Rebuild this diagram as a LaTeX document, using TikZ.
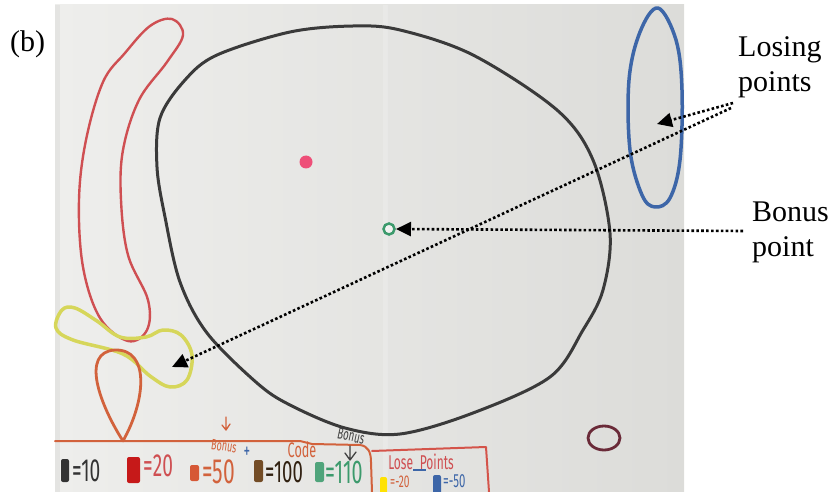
\documentclass[tikz,border=0pt]{standalone}
\usepackage{fontspec}
\setmainfont{Liberation Serif}
\newfontfamily\hand[FakeStretch=0.6]{Fira Sans}
\usetikzlibrary{arrows.meta}
\definecolor{paperA}{HTML}{EEEEEC}
\definecolor{paperB}{HTML}{DCDCD9}
\definecolor{mkblack}{HTML}{3A3A3A}
\definecolor{mkred}{HTML}{CF4F52}
\definecolor{mkblue}{HTML}{3D66A8}
\definecolor{mkyellow}{HTML}{D6D65A}
\definecolor{mkorange}{HTML}{D2623C}
\definecolor{mkpink}{HTML}{EE4F78}
\definecolor{mkgreen}{HTML}{3C9A6C}
\definecolor{mkbrown}{HTML}{6A2A38}
\tikzset{
  marker/.style={line width=#1, line cap=round, line join=round},
  pointer/.style={line width=2.6pt, dash pattern=on 2.6pt off 2.3pt,
     -{Triangle[length=15pt,width=14pt]}},
  lbl/.style={inner sep=0pt, anchor=base west, font=\fontsize{30}{35}\selectfont},
  handtxt/.style={inner sep=0pt, anchor=base west, font=\hand\fontsize{#1}{#1}\selectfont},
  smalltxt/.style={inner sep=0pt, font=\hand\fontsize{#1}{#1}\selectfont}
}
\begin{document}
\begin{tikzpicture}[x=1pt,y=-1pt]
\useasboundingbox (0,0) rectangle (833,492);
\begin{scope}
\clip (0,0) rectangle (833,492);
% paper
\shade[left color=paperA, right color=paperB] (55,5) rectangle (684,492);
\fill[white, opacity=0.18] (383,5) rectangle (388,492);
\fill[black, opacity=0.04] (55,5) rectangle (60,492);

% red elongated loop
\draw[mkred, marker=2.4pt] plot[smooth cycle, tension=0.6] coordinates {
  (172,19) (150,26) (125,53) (103,82) (86,140) (79,200) (83,267) (100,318)
  (128,341) (147,330) (148,300) (128,255) (121,200) (123,150) (139,100)
  (167,62) (183,35)};

% big black loop
\draw[mkblack, marker=3pt] plot[smooth cycle, tension=0.55] coordinates {
  (217,55) (290,32) (353,26) (400,30) (473,55) (557,110) (593,160) (610,233)
  (603,290) (583,330) (550,377) (473,413) (400,434) (345,428) (290,405) (257,383)
  (207,333) (180,282) (165,217) (157,167) (160,118) (185,80)};

% blue loop
\draw[mkblue, marker=3.5pt] plot[smooth cycle, tension=0.6] coordinates {
  (658,8) (640,32) (629,80) (630,150) (642,195) (655,207) (670,198)
  (680,160) (682,90) (676,40)};

% yellow loop
\draw[mkyellow, marker=3.5pt] plot[smooth cycle, tension=0.6] coordinates {
  (62,310) (56,328) (73,340) (123,354) (150,376) (170,387) (187,380)
  (192,355) (181,335) (163,330) (146,337) (120,337) (97,321) (75,308)};

% orange teardrop
\draw[mkorange, marker=2.8pt] (123,441) .. controls (100,405) and (80,352) .. (115,350)
  .. controls (150,349) and (146,400) .. (123,441);

% dots
\fill[mkpink] (306,162) circle (6.5);
\draw[mkgreen, line width=2.5pt] (389,229) circle (5.5);
\fill[white, opacity=0.5] (389,229) circle (3.8);

% brown ring
\draw[mkbrown, line width=2.8pt] (604,438) ellipse (16 and 12);

% legend boundaries
\draw[mkorange, marker=2pt] (55,441) -- (300,441) -- (312,444) -- (360,445)
  .. controls (368,446) and (371,452) .. (371,462) -- (372,492);
\draw[mkred!90!orange, marker=2pt] (372,451) -- (486,447) -- (489,492);

% legend swatches
\fill[black!80, rounded corners=2pt] (61,459) rectangle (69,482);
\fill[red!75!black!90!white, rounded corners=2pt] (127,457) rectangle (140,483);
\fill[mkorange!90!red, rounded corners=2pt] (190,465) rectangle (199,481);
\fill[brown!60!black, rounded corners=2pt] (254,460) rectangle (263,482);
\fill[mkgreen!90!white, rounded corners=2pt] (315,462) rectangle (324,482);
\fill[yellow!85!orange, rounded corners=2pt] (380,477) rectangle (387,495);
\fill[mkblue, rounded corners=2pt] (433,475) rectangle (441,495);

% legend texts
\node[handtxt=32, black!80] (v10) at (72,481) {=10};
\node[handtxt=32, mkred] (v20) at (143,476) {=20};
\node[handtxt=35, mkorange] (v50) at (202,483) {=50};
\node[handtxt=31, black!75!brown] (v100) at (265,482) {=100};
\node[handtxt=33, mkgreen] (v110) at (325,483) {=110};
\node[smalltxt=15, mkorange, rotate=-8] (bonA) at (224,446) {Bonus};
\node[smalltxt=22, mkblue] (plusA) at (247,453) {+};
\node[smalltxt=21, mkorange] (code) at (302,450) {Code};
\node[smalltxt=16, black!75, rotate=-12] (bonB) at (351,436) {Bonus};
\node[smalltxt=20, mkred] (lose) at (421,462) {Lose\,\,Points};
\draw[mkblue, line width=1.3pt] (413,470) -- (426,470);
\node[handtxt=17, mkorange] (v20n) at (390,487) {=-20};
\node[handtxt=19, mkblue] (v50n) at (443,487) {=-50};
% little hand arrows
\draw[mkorange, marker=1.3pt] (226,417) -- (226,430) (222,425) -- (226,430) -- (230,424);
\draw[black!75, marker=1.3pt] (350,446) -- (350,460) (345,453) -- (350,460) -- (356,452);
\end{scope}

% printed labels
\node[lbl] (b) at (10,52) {(b)};
\node[lbl] (losing) at (738,57) {Losing};
\node[lbl] (losing2) at (738,92) {points};
\node[lbl] (bonus) at (752,222) {Bonus};
\node[lbl] (bonus2) at (752,256) {point};

% pointer coordinates
\coordinate (ls1) at (733,103);
\coordinate (ls2) at (731,108);
\coordinate (tblue) at (657,124);
\coordinate (tyell) at (172,367);
\coordinate (bs) at (743,231);
\coordinate (tgreen) at (396,229);

\draw[pointer] (ls1) -- (tblue);
\draw[pointer] (ls2) -- (tyell);
\draw[pointer] (bs) -- (tgreen);
\end{tikzpicture}
\end{document}
